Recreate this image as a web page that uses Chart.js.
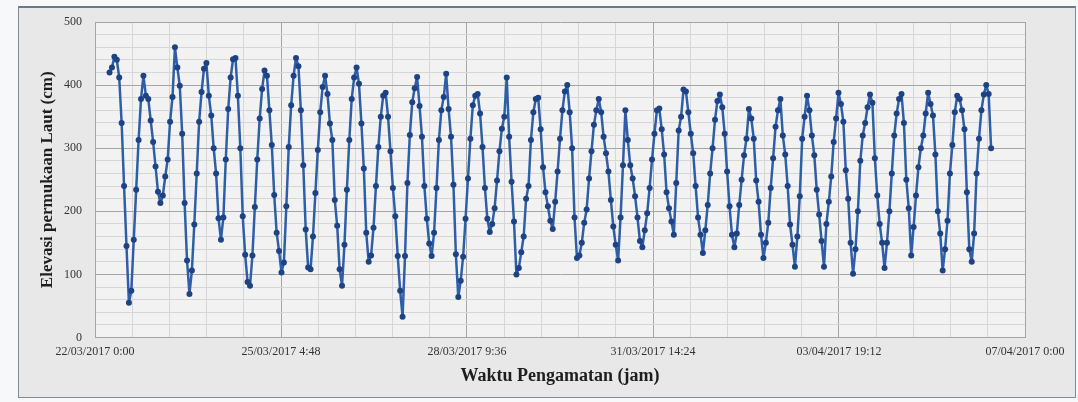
<!DOCTYPE html>
<html>
<head>
<meta charset="utf-8">
<title>Elevasi permukaan laut</title>
<script src="https://cdn.jsdelivr.net/npm/chart.js@4.4.0/dist/chart.umd.min.js"></script>
<style>
  html, body { margin: 0; padding: 0; background: #f6f8fa; }
  #frame { position: absolute; left: 18px; top: 6px; width: 1058px; height: 392px;
           background: #e8e8e8; border: 1px solid #7f8a9a; border-top: 2px solid #6b788c; box-sizing: border-box; }
  #grafik { position: absolute; left: 0; top: 0; }
</style>
</head>
<body>
<div id="frame"></div>
<canvas id="grafik" width="1078" height="402"></canvas>
<script>
// pengamatan per jam, mulai 22/03/2017 6:00 (jam ke-6)
const jamAwal = 6;
const elevasi = [
  420, 428, 445, 440, 412, 340, 240, 145, 55, 74, 155, 234, 313, 378, 415, 383,
  378, 344, 310, 271, 231, 213, 225, 255, 282, 342, 381, 460, 428, 399, 323, 213,
  122, 69, 106, 179, 260, 342, 389, 426, 435, 383, 352, 300, 260, 189, 155, 190,
  282, 362, 412, 441, 443, 383, 300, 192, 131, 88, 82, 130, 207, 282, 347, 394,
  423, 415, 360, 305, 226, 166, 137, 103, 119, 208, 302, 368, 415, 443, 430, 360,
  273, 171, 111, 108, 160, 229, 297, 357, 397, 415, 386, 339, 313, 218, 177, 108,
  82, 147, 234, 313, 378, 412, 428, 402, 339, 268, 166, 120, 130, 174, 240, 302,
  350, 383, 388, 350, 295, 237, 192, 129, 74, 33, 129, 245, 321, 373, 395, 413,
  367, 318, 240, 188, 149, 129, 166, 237, 313, 360, 381, 418, 362, 318, 242, 132,
  64, 90, 128, 188, 252, 315, 368, 383, 386, 355, 302, 237, 188, 167, 180, 205,
  249, 295, 331, 350, 412, 318, 247, 184, 100, 110, 135, 160, 220, 240, 313, 357,
  378, 380, 330, 270, 230, 208, 185, 172, 215, 263, 315, 360, 390, 400, 357, 300,
  190, 126, 130, 150, 182, 203, 252, 295, 337, 360, 378, 357, 318, 292, 263, 218,
  176, 147, 122, 190, 273, 360, 313, 273, 252, 224, 190, 153, 143, 170, 197, 237,
  282, 323, 360, 363, 330, 290, 230, 205, 184, 163, 245, 328, 350, 393, 390, 357,
  323, 292, 240, 190, 163, 134, 170, 210, 260, 300, 345, 375, 385, 365, 323, 263,
  208, 163, 143, 165, 210, 250, 289, 315, 362, 347, 315, 249, 215, 163, 126, 150,
  182, 237, 284, 334, 360, 378, 320, 290, 240, 179, 147, 112, 160, 224, 315, 350,
  383, 360, 320, 289, 234, 195, 153, 112, 180, 215, 255, 310, 347, 388, 370, 342,
  265, 220, 150, 101, 140, 200, 280, 320, 340, 365, 385, 372, 284, 225, 180, 150,
  110, 150, 200, 260, 320, 355, 378, 386, 340, 250, 205, 130, 175, 225, 270, 300,
  320, 355, 388, 370, 352, 290, 200, 165, 106, 140, 185, 260, 305, 357, 383, 378,
  360, 330, 230, 140, 120, 165, 260, 315, 360, 385, 400, 386, 300
];
const xTickLabels = ['22/03/2017 0:00', '25/03/2017 4:48', '28/03/2017 9:36',
  '31/03/2017 14:24', '03/04/2017 19:12', '07/04/2017 0:00'];
const xMajorJam = 76.8;   // 3 hari 4 jam 48 menit
const xMinorPerMajor = 5;
const yMax = 500;
const yMinorStep = 20;
const yMajorStep = 100;
const xTitle = 'Waktu Pengamatan (jam)';
const yTitle = 'Elevasi permukaan Laut (cm)';

const points = elevasi.map((v, i) => ({ x: jamAwal + i, y: v }));
const xMax = xMajorJam * (xTickLabels.length - 1);

const plotBg = {
  id: 'plotBg',
  beforeDraw(chart) {
    const a = chart.chartArea, c = chart.ctx;
    c.save();
    c.fillStyle = '#f2f2f2';
    c.fillRect(a.left, a.top, a.right - a.left, a.bottom - a.top);
    c.restore();
  }
};

const axisTitles = {
  id: 'axisTitles',
  afterDraw(chart) {
    const a = chart.chartArea, c = chart.ctx;
    c.save();
    c.fillStyle = '#1e1e1e';
    c.textAlign = 'center';
    c.textBaseline = 'middle';
    c.font = 'bold 18px "Liberation Serif"';
    c.fillText(xTitle, (a.left + a.right) / 2, 376);
    c.translate(48, (a.top + a.bottom) / 2);
    c.rotate(-Math.PI / 2);
    c.font = 'bold 17px "Liberation Serif"';
    c.fillText(yTitle, 0, 0);
    c.restore();
  }
};

new Chart(document.getElementById('grafik'), {
  type: 'line',
  data: {
    datasets: [{
      data: points,
      borderColor: '#2f5ea8',
      borderWidth: 2.5,
      borderJoinStyle: 'round',
      pointRadius: 3,
      pointBackgroundColor: '#1d4384',
      pointBorderWidth: 0,
      tension: 0
    }]
  },
  options: {
    responsive: false,
    animation: false,
    layout: { padding: { top: 22, right: 53, left: 0, bottom: 0 } },
    plugins: { legend: { display: false }, tooltip: { enabled: false } },
    scales: {
      x: {
        type: 'linear',
        min: 0,
        max: xMax,
        afterBuildTicks: (s) => {
          const t = [];
          const n = (xTickLabels.length - 1) * xMinorPerMajor;
          for (let i = 0; i <= n; i++) t.push({ value: i * xMajorJam / xMinorPerMajor });
          s.ticks = t;
        },
        afterFit: (s) => { s.height = 64.5; },
        ticks: {
          autoSkip: false,
          maxRotation: 0,
          padding: 7,
          color: '#333',
          font: { family: '"Liberation Serif"', size: 12 },
          callback: (v, i) => (i % xMinorPerMajor === 0 ? xTickLabels[i / xMinorPerMajor] : '')
        },
        grid: {
          drawTicks: false,
          color: (ctx) => (ctx.index % xMinorPerMajor === 0 ? '#a6a6a6' : '#d6d6d6'),
          lineWidth: 1
        },
        border: { color: '#a6a6a6' }
      },
      y: {
        min: 0,
        max: yMax,
        afterBuildTicks: (s) => {
          const t = [];
          for (let v = 0; v <= yMax; v += yMinorStep) t.push({ value: v });
          s.ticks = t;
        },
        afterFit: (s) => { s.width = 95; },
        ticks: {
          autoSkip: false,
          padding: 13,
          color: '#333',
          font: { family: '"Liberation Serif"', size: 12 },
          callback: (v) => (v % yMajorStep === 0 ? v : '')
        },
        grid: {
          drawTicks: false,
          color: (ctx) => (ctx.tick && ctx.tick.value % yMajorStep === 0 ? '#a6a6a6' : '#d6d6d6'),
          lineWidth: 1
        },
        border: { color: '#a6a6a6' }
      }
    }
  },
  plugins: [plotBg, axisTitles]
});
</script>
</body>
</html>
